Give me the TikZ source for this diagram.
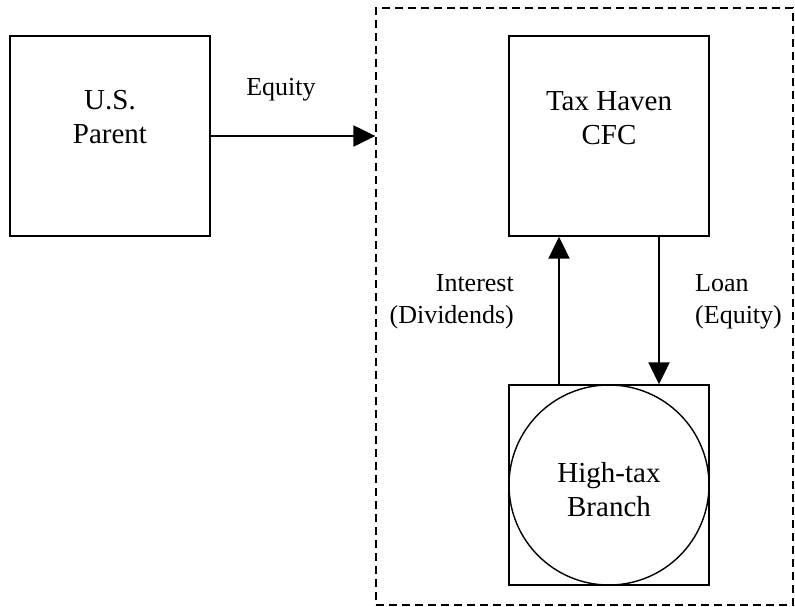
\documentclass[tikz,border=0pt]{standalone}
\usepackage{fontspec}
\setmainfont{Liberation Serif}
\usetikzlibrary{arrows.meta}

\begin{document}
\begin{tikzpicture}[x=1pt,y=1pt]
\tikzstyle{every node}+=[inner sep=0pt,font=\fontsize{26}{32}\selectfont]
\tikzstyle{boxtext}=[align=center,font=\fontsize{29}{34}\selectfont]
\tikzstyle{entity}=[draw,line width=1.4pt,minimum width=200,minimum height=200]
\tikzstyle{zone}=[draw,line width=1.3pt,dash pattern=on 8pt off 5pt,minimum width=417,minimum height=597]
\tikzstyle{flow}=[line width=2.2pt,-{Triangle[length=22pt,width=21pt]}]
\useasboundingbox (0,0) rectangle (795,-606);
% boxes
\node [entity] (parent) at (110,-136) {};
\node [boxtext] (parenttext) at (110,-117) {U.S.\\Parent};
\node [zone] (cfcarea) at (584.5,-306.5) {};
\node [entity] (cfc) at (609,-136) {};
\node [boxtext] (cfctext) at (609,-118) {Tax Haven\\CFC};
\node [entity] (branch) at (609,-485) {};
\node [draw,circle,line width=1.4pt,minimum size=200] (branchcirc) at (609,-485) {};
\node [boxtext] (branchtext) at (609,-490) {High-tax\\Branch};
% flows
\draw [flow] (parent.east) -- (parent.east -| cfcarea.west);
\node (equitylbl) at (281,-90) {Equity};
\draw [flow] ([xshift=-50]branch.north) -- ([xshift=-50]cfc.south);
\node [align=right,anchor=east] (interestlbl) at (514,-302) {Interest\\(Dividends)};
\draw [flow] ([xshift=50]cfc.south) -- ([xshift=50]branch.north);
\node [align=left,anchor=west] (loanlbl) at (695,-302) {Loan\\(Equity)};
\end{tikzpicture}
\end{document}
